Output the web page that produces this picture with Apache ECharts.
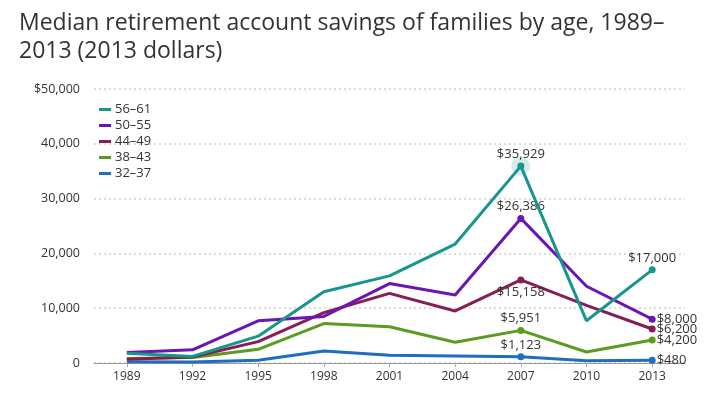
<!DOCTYPE html>
<html><head><meta charset="utf-8">
<script src="https://cdn.jsdelivr.net/npm/echarts@6/dist/echarts.min.js"></script>
<style>html,body{margin:0;padding:0;background:#fff}#c{width:719px;height:393px}</style>
</head><body><div id="c"></div>
<script>
const years = ['1989','1992','1995','1998','2001','2004','2007','2010','2013'];
const seriesNames = ['56–61','50–55','44–49','38–43','32–37'];
const age56_61 = [1800, 1200, 4900, 13000, 15900, 21700, 35929, 7700, 17000];
const age50_55 = [1900, 2400, 7700, 8500, 14500, 12400, 26386, 14000, 8000];
const age44_49 = [700, 1100, 3900, 9200, 12700, 9500, 15158, 10500, 6200];
const age38_43 = [800, 1000, 2500, 7200, 6600, 3800, 5951, 2000, 4200];
const age32_37 = [250, 200, 500, 2200, 1400, 1300, 1123, 400, 480];
const yTicks = [0, 10000, 20000, 30000, 40000, 50000];

const colors = ['#17968b', '#6a16b5', '#871d52', '#5b9b1f', '#1d6ec0'];
const allData = [age56_61, age50_55, age44_49, age38_43, age32_37];
const labelPos = [
  {6:'top', 8:'top'},
  {6:'top', 8:'right'},
  {6:'bottom', 8:'right'},
  {6:'top', 8:'right'},
  {6:'top', 8:'right'}
];
function fmt(v){ return '$' + v.toLocaleString('en-US'); }
const FONT = 'Open Sans';

const series = allData.map((arr, si) => ({
  name: seriesNames[si],
  type: 'line',
  data: arr.map((v, i) => {
    const p = labelPos[si][i];
    if (!p) return {value: v, symbolSize: 0};
    return {
      value: v, symbolSize: 7,
      label: {show: true, position: p, distance: p === 'right' ? 1 : 2,
        formatter: () => fmt(v), color: '#333', fontSize: 13,
        fontFamily: FONT}
    };
  }),
  symbol: 'circle',
  showSymbol: true,
  lineStyle: {width: 3, color: colors[si]},
  itemStyle: {color: colors[si]},
  z: 10 - si,
  animation: false
}));
series.push({
  type: 'scatter', silent: true, name: 'halo',
  data: age56_61.map((v, i) => i === 6 ? v : null),
  symbolSize: 19,
  itemStyle: {color: 'rgba(23,150,139,0.22)'},
  z: 1, animation: false
});

const chart = echarts.init(document.getElementById('c'));
chart.setOption({
  animation: false,
  title: {
    text: 'Median retirement account savings of families by age, 1989–\n2013 (2013 dollars)',
    left: 14, top: 4,
    textStyle: {fontFamily: FONT, fontWeight: 'normal', fontSize: 23, color: '#333', lineHeight: 28}
  },
  legend: {
    data: seriesNames,
    orient: 'vertical', left: 94, top: 98,
    icon: 'rect', itemWidth: 12, itemHeight: 3, itemGap: 3,
    textStyle: {fontFamily: FONT, fontSize: 13, color: '#333', padding: [0,0,0,-1]}
  },
  grid: {left: 94, right: 34, top: 89, bottom: 30, containLabel: false},
  xAxis: {
    type: 'category', data: years, boundaryGap: true,
    axisLine: {show: true, lineStyle: {color: '#999', width: 1}},
    axisTick: {show: true, alignWithLabel: true, length: 4, lineStyle: {color: '#aaa'}},
    axisLabel: {fontFamily: FONT, fontSize: 12, color: '#333', margin: 8}
  },
  yAxis: {
    type: 'value', min: 0, max: 50000, interval: 10000,
    axisLine: {show: false}, axisTick: {show: false},
    splitLine: {show: true, lineStyle: {type: [2, 3], color: '#dcdcdc', width: 2}},
    axisLabel: {fontFamily: FONT, fontSize: 12.5, color: '#333', margin: 14,
      formatter: v => v === 50000 ? '$50,000' : v.toLocaleString('en-US')}
  },
  series: series
});
</script></body></html>
